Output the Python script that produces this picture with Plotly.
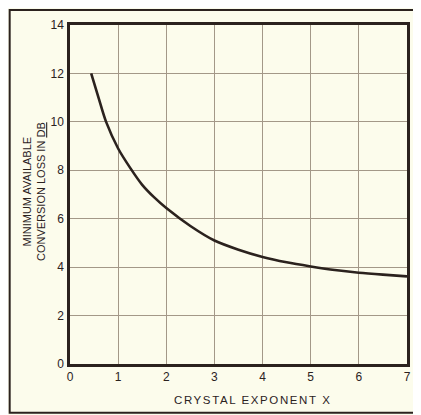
import plotly.graph_objects as go

# Curve: crystal exponent X vs minimum conversion loss (dB)
crystal_exponent = [0.44, 0.6, 0.75, 1.0, 1.25, 1.5, 1.75, 2.0, 2.5, 3.0,
                    3.5, 4.0, 4.5, 5.0, 5.5, 6.0, 6.5, 7.0]
conversion_loss_db = [12.0, 10.95, 10.0, 8.9, 8.1, 7.4, 6.88, 6.44, 5.7, 5.1,
                      4.72, 4.42, 4.2, 4.03, 3.88, 3.77, 3.69, 3.62]

x_ticks = [0, 1, 2, 3, 4, 5, 6, 7]
y_ticks = [0, 2, 4, 6, 8, 10, 12, 14]

PAPER = "#fcfcec"
INK = "#2b221e"
GRID = "#a39888"
FONT = "Liberation Sans"

fig = go.Figure()

fig.add_trace(go.Scatter(
    x=crystal_exponent,
    y=conversion_loss_db,
    mode="lines",
    line=dict(color=INK, width=2.6, shape="spline", smoothing=0.8),
    hoverinfo="skip",
    showlegend=False,
))

# outer border of the figure (right side runs off the page)
fig.add_shape(type="rect", xref="paper", yref="paper",
              x0=-0.179, x1=1.06, y0=-0.144, y1=1.044,
              line=dict(color=INK, width=2))

fig.add_annotation(
    text="<span style='letter-spacing:1.6px'>CRYSTAL EXPONENT X</span>",
    xref="paper", yref="paper",
    x=0.543, y=-0.106, showarrow=False, yanchor="middle",
    font=dict(family=FONT, size=11.5, color=INK),
)

fig.add_annotation(
    text="MINIMUM AVAILABLE<br>CONVERSION LOSS IN <u>DB</u>",
    xref="paper", yref="paper", x=-0.107, y=0.51, textangle=-90,
    showarrow=False, xanchor="center", yanchor="middle", align="center",
    font=dict(family=FONT, size=11, color=INK),
)

fig.update_layout(
    width=413, height=407, autosize=False,
    margin=dict(l=62, r=10, t=16, b=51),
    paper_bgcolor=PAPER, plot_bgcolor=PAPER,
    font=dict(family=FONT, size=12, color=INK),
    xaxis=dict(range=[0, 7], tickvals=x_ticks, showgrid=True, gridcolor=GRID,
               gridwidth=1.2, zeroline=False, showline=True, linecolor=INK,
               linewidth=2.5, mirror=True, ticks="", ticklabelstandoff=0),
    yaxis=dict(range=[0, 14], tickvals=y_ticks, showgrid=True, gridcolor=GRID,
               gridwidth=1.2, zeroline=False, showline=True, linecolor=INK,
               linewidth=2.5, mirror=True, ticks="", ticklabelstandoff=1),
)

fig.write_html("out.html")
